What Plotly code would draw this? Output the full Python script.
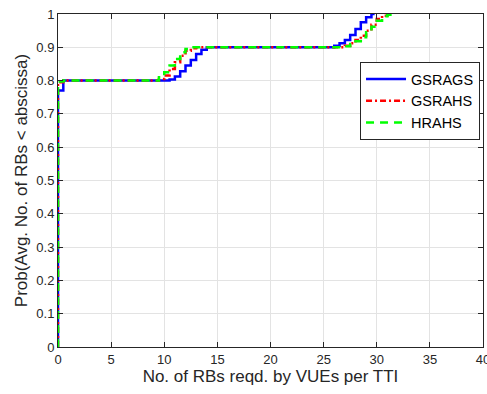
import plotly.graph_objects as go

# ---- data ----
x_gsrags = [0, 0, 0.5, 10.0, 10.5, 11.0, 11.5, 12.0, 12.5, 13.0, 13.5, 14.0, 25.5, 26.0, 26.5, 27.0, 27.5, 28.0, 28.5, 29.0, 29.5, 29.8]
p_gsrags = [0, 0.77, 0.80, 0.80, 0.803, 0.812, 0.828, 0.845, 0.862, 0.88, 0.893, 0.90, 0.90, 0.905, 0.912, 0.922, 0.937, 0.955, 0.975, 0.99, 1.0, 1.0]

x_gsrahs = [0, 0, 0.5, 9.0, 9.5, 10.0, 10.5, 11.0, 11.5, 12.0, 12.5, 13.0, 26.5, 27.0, 27.5, 28.0, 28.5, 29.0, 29.5, 30.0, 30.5, 31.0]
p_gsrahs = [0, 0.795, 0.80, 0.80, 0.805, 0.815, 0.835, 0.855, 0.875, 0.89, 0.897, 0.90, 0.90, 0.905, 0.912, 0.922, 0.935, 0.95, 0.968, 0.985, 0.995, 1.0]

x_hrahs = [0, 0, 0.5, 9.0, 9.5, 10.0, 10.5, 11.0, 11.5, 12.0, 12.5, 26.5, 27.0, 27.5, 28.0, 28.5, 29.0, 29.5, 30.0, 30.5, 31.0, 31.5]
p_hrahs = [0, 0.797, 0.80, 0.80, 0.81, 0.825, 0.845, 0.865, 0.885, 0.895, 0.90, 0.90, 0.903, 0.91, 0.918, 0.93, 0.945, 0.962, 0.98, 0.993, 0.998, 1.0]

x_ticks = [0, 5, 10, 15, 20, 25, 30, 35, 40]
y_ticks = [0, 0.1, 0.2, 0.3, 0.4, 0.5, 0.6, 0.7, 0.8, 0.9, 1]
y_tick_labels = ["0", "0.1", "0.2", "0.3", "0.4", "0.5", "0.6", "0.7", "0.8", "0.9", "1"]

FONT = "Liberation Sans, Arial, sans-serif"
AX = "#262626"

fig = go.Figure()
fig.add_trace(go.Scatter(x=x_gsrags, y=p_gsrags, mode="lines", name="GSRAGS",
                         line=dict(color="#0000FF", width=2.5, shape="hv")))
fig.add_trace(go.Scatter(x=x_gsrahs, y=p_gsrahs, mode="lines", name="GSRAHS",
                         line=dict(color="#FF0000", width=2.5, shape="hv", dash="6px,3px,2px,3px")))
fig.add_trace(go.Scatter(x=x_hrahs, y=p_hrahs, mode="lines", name="HRAHS",
                         line=dict(color="#00FF00", width=2.5, shape="hv", dash="8px,6px")))

axis_common = dict(
    showline=True, linecolor=AX, linewidth=1, mirror="ticks",
    ticks="inside", ticklen=5, tickcolor=AX, tickwidth=1,
    showgrid=True, gridcolor="#E3E3E3", gridwidth=1,
    zeroline=False, automargin=False,
    tickfont=dict(family=FONT, size=13, color=AX),
    ticklabeloverflow="allow",
)

fig.update_layout(
    width=487, height=394,
    margin=dict(l=58, r=4, t=14, b=47),
    paper_bgcolor="white", plot_bgcolor="white",
    font=dict(family=FONT, color=AX),
    xaxis=dict(range=[0, 40], tickvals=x_ticks, ticktext=[str(v) for v in x_ticks],
               title=dict(text="No. of RBs reqd. by VUEs per TTI", font=dict(family=FONT, size=17, color=AX), standoff=4),
               **axis_common),
    yaxis=dict(range=[0, 1], tickvals=y_ticks, ticktext=y_tick_labels,
               title=dict(text="Prob(Avg. No. of RBs < abscissa)", font=dict(family=FONT, size=17, color=AX), standoff=4),
               **axis_common),
    legend=dict(x=0.993, y=0.856, xanchor="right", yanchor="top",
                bgcolor="white", bordercolor=AX, borderwidth=1,
                font=dict(family=FONT, size=14.5, color="black"),
                tracegroupgap=0, itemwidth=40),
    showlegend=True,
)

fig.write_html("out.html")
